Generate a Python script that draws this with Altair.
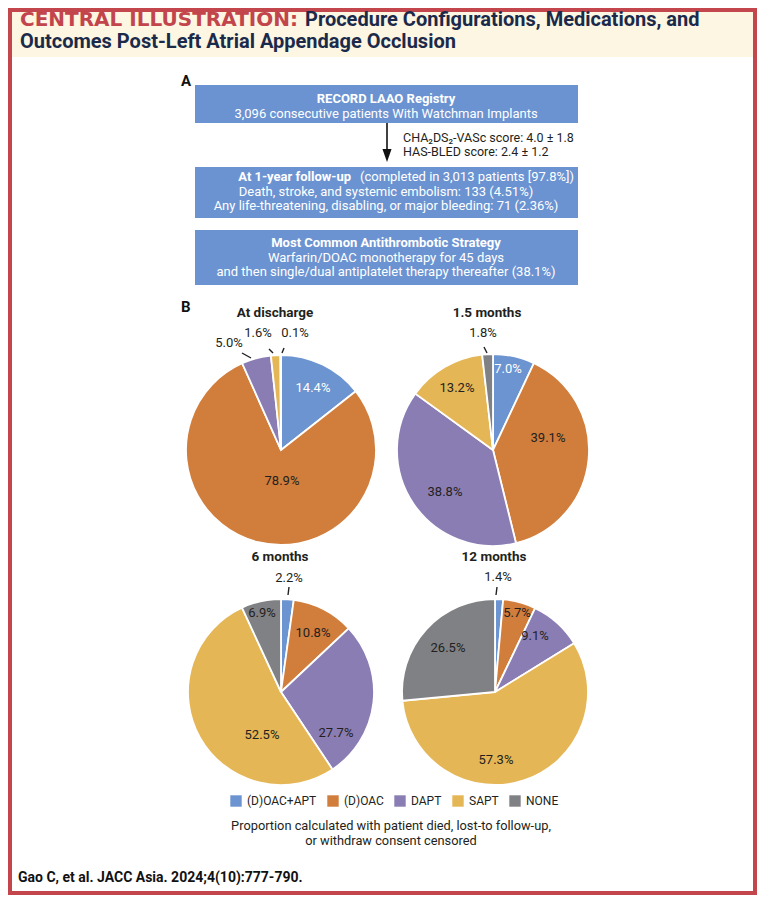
import altair as alt
import pandas as pd

# ---------------- data ----------------
categories = ["(D)OAC+APT", "(D)OAC", "DAPT", "SAPT", "NONE"]
colors = ["#6b94d0", "#d17d3b", "#8a7db4", "#e5b655", "#808184"]
timepoints = ["At discharge", "1.5 months", "6 months", "12 months"]
discharge = [14.4, 78.9, 5.0, 1.6, 0.1]
month_1_5 = [7.0, 39.1, 38.8, 13.2, 1.8]
month_6 = [2.2, 10.8, 27.7, 52.5, 6.9]
month_12 = [1.4, 5.7, 9.1, 57.3, 26.5]
series = [discharge, month_1_5, month_6, month_12]

title_red = "CENTRAL ILLUSTRATION:"
title_line1 = "Procedure Configurations, Medications, and"
title_line2 = "Outcomes Post-Left Atrial Appendage Occlusion"
box1 = ["RECORD LAAO Registry", "3,096 consecutive patients With Watchman Implants"]
scores = ["CHA\u2082DS\u2082-VASc score: 4.0 \u00b1 1.8", "HAS-BLED score: 2.4 \u00b1 1.2"]
box2_head = ["At 1-year follow-up", "(completed in 3,013 patients [97.8%])"]
box2 = ["Death, stroke, and systemic embolism: 133 (4.51%)",
        "Any life-threatening, disabling, or major bleeding: 71 (2.36%)"]
box3 = ["Most Common Antithrombotic Strategy", "Warfarin/DOAC monotherapy for 45 days",
        "and then single/dual antiplatelet therapy thereafter (38.1%)"]
note = ["Proportion calculated with patient died, lost-to follow-up,", "or withdraw consent censored"]
citation = "Gao C, et al. JACC Asia. 2024;4(10):777-790."

# ---------------- layout (image pixel coords) ----------------
OX, OY = 8, 8
W, H = 749, 887
FONT = "Roboto"
DARK = "#231f20"
NAVY = "#1b2a4b"
RED = "#c2454c"
BOXC = "#6b93d1"

pie_geo = [(281, 450, 95), (493, 450, 96), (281, 692, 93), (495, 692, 93)]
pie_title_pos = [(275, 317), (487, 317), (280, 561), (494, 561)]
# label centres per pie (same order as categories)
label_pos = [
    [(313, 388), (282, 481), (229, 343), (258, 333), (295, 333)],
    [(508, 369), (548, 438), (445, 492), (457, 388), (483, 333)],
    [(289, 578), (313, 633), (336, 733), (262, 735), (262, 613)],
    [(498, 577), (517, 613), (535, 636), (496, 760), (448, 648)],
]
label_white = [[True, False, False, False, False],
               [True, False, False, False, False],
               [False] * 5, [False] * 5]
leaders = [
    (242, 353, 251, 358), (269, 349, 273, 353), (284, 348, 282, 353),
    (484, 347, 487, 353), (289, 587, 288, 595), (497, 587, 496, 595),
]


def px(v):
    return v - OX


def py(v):
    return v - OY


XS = dict(scale=None, axis=None)

layers = []

# border + header background
frame = pd.DataFrame({"x": [2], "x2": [W - 2], "y": [2], "y2": [H - 2]})
header = pd.DataFrame({"x": [3], "x2": [W - 3], "y": [3], "y2": [py(57)]})
layers.append(alt.Chart(header).mark_rect(color="#fcf6e2").encode(
    x=alt.X("x:Q", **XS), x2="x2:Q", y=alt.Y("y:Q", **XS), y2="y2:Q"))
layers.append(alt.Chart(frame).mark_rect(fill=None, stroke="#c4464d", strokeWidth=4).encode(
    x=alt.X("x:Q", **XS), x2="x2:Q", y=alt.Y("y:Q", **XS), y2="y2:Q"))

# panel A boxes
boxes = pd.DataFrame({"x": [px(195)] * 3, "x2": [px(578)] * 3,
                      "y": [py(85), py(167), py(230)], "y2": [py(123), py(218), py(285)]})
layers.append(alt.Chart(boxes).mark_rect(color=BOXC).encode(
    x=alt.X("x:Q", **XS), x2="x2:Q", y=alt.Y("y:Q", **XS), y2="y2:Q"))

# arrow
arrow = pd.DataFrame({"x": [px(387)], "y": [py(123)], "y2": [py(151)]})
layers.append(alt.Chart(arrow).mark_rule(color="#111111", strokeWidth=1.6).encode(
    x=alt.X("x:Q", **XS), y=alt.Y("y:Q", **XS), y2="y2:Q"))
head = pd.DataFrame({"x": [px(387)], "y": [py(155.5)]})
layers.append(alt.Chart(head).mark_point(
    shape="M-0.35,-0.5L0.35,-0.5L0,0.5Z", size=676, filled=True, color="#111111", opacity=1
).encode(x=alt.X("x:Q", **XS), y=alt.Y("y:Q", **XS)))

# pies
color_scale = alt.Scale(domain=categories, range=colors)
legend = alt.Legend(orient="none", legendX=px(230), legendY=py(795), direction="horizontal",
                    title=None, symbolType="square", symbolSize=130, symbolStrokeWidth=0,
                    labelFont=FONT, labelFontSize=12, labelColor=DARK, labelOffset=5,
                    columnPadding=10, padding=0, offset=0)
for vals, (cx, cy, r) in zip(series, pie_geo):
    df = pd.DataFrame({"cat": categories, "value": vals, "order": list(range(len(categories)))})
    layers.append(alt.Chart(df).mark_arc(outerRadius=r, stroke="white", strokeWidth=1.8).encode(
        x=alt.value(px(cx)), y=alt.value(py(cy)),
        theta=alt.Theta("value:Q", stack="normalize"),
        color=alt.Color("cat:N", scale=color_scale, legend=legend),
        order=alt.Order("order:Q"),
    ))

# leader lines
ld = pd.DataFrame(leaders, columns=["x", "y", "x2", "y2"])
ld[["x", "x2"]] -= OX
ld[["y", "y2"]] -= OY
layers.append(alt.Chart(ld).mark_rule(color=DARK, strokeWidth=1.4).encode(
    x=alt.X("x:Q", **XS), y=alt.Y("y:Q", **XS), x2="x2:Q", y2="y2:Q"))


def text_layer(rows, size, color, weight="normal", align="left", baseline="alphabetic", font=FONT):
    df = pd.DataFrame(rows, columns=["t", "x", "y"])
    df["x"] = df["x"] - OX
    df["y"] = df["y"] - OY
    return alt.Chart(df).mark_text(
        fontSize=size, color=color, fontWeight=weight, align=align, baseline=baseline, font=font
    ).encode(x=alt.X("x:Q", **XS), y=alt.Y("y:Q", **XS), text="t:N")


# pie value labels
dark_lab, white_lab = [], []
for vals, poss, whites in zip(series, label_pos, label_white):
    for v, (lx, ly), w in zip(vals, poss, whites):
        (white_lab if w else dark_lab).append((f"{v:.1f}%", lx, ly))
layers.append(text_layer(dark_lab, 13, DARK, align="center", baseline="middle"))
layers.append(text_layer(white_lab, 13, "white", align="center", baseline="middle"))

# pie titles
layers.append(text_layer([(t, x, y) for t, (x, y) in zip(timepoints, pie_title_pos)],
                         13.5, DARK, weight="bold", align="center"))

# header
layers.append(text_layer([(title_red, 20, 26)], 20, RED, weight="bold", font="DejaVu Sans"))
layers.append(text_layer([(title_line1, 305, 26), (title_line2, 20, 48)], 20, NAVY, weight="bold"))

# panel letters
layers.append(text_layer([("A", 181, 86), ("B", 181, 312)], 15, "#111111", weight="bold"))

# box texts
layers.append(text_layer([(box1[0], 386, 103), (box3[0], 386, 247)], 13, "white", weight="bold",
                         align="center"))
layers.append(text_layer([(box2_head[0], 351, 181)], 13, "white", weight="bold", align="right"))
layers.append(text_layer([(box2_head[1], 360, 181)], 13, "white", align="left"))
layers.append(text_layer([(box1[1], 386, 118), (box2[0], 386, 196), (box2[1], 386, 210),
                          (box3[1], 386, 262), (box3[2], 386, 276)], 13, "white", align="center"))

# scores
layers.append(text_layer([(scores[0], 403, 142)], 12.5, DARK))
layers.append(text_layer([(scores[1], 403, 156)], 12.5, DARK))

# note + citation
layers.append(text_layer([(note[0], 391, 830), (note[1], 391, 845)], 12.8, DARK, align="center"))
layers.append(text_layer([(citation, 18, 882)], 14, "#111111", weight="bold"))

chart = alt.layer(*layers).properties(
    width=W, height=H, padding=0, background="white",
    autosize=alt.AutoSizeParams(type="none"),
).configure_view(stroke=None)

chart.save("out.html", embed_options={"renderer": "svg", "actions": False})
